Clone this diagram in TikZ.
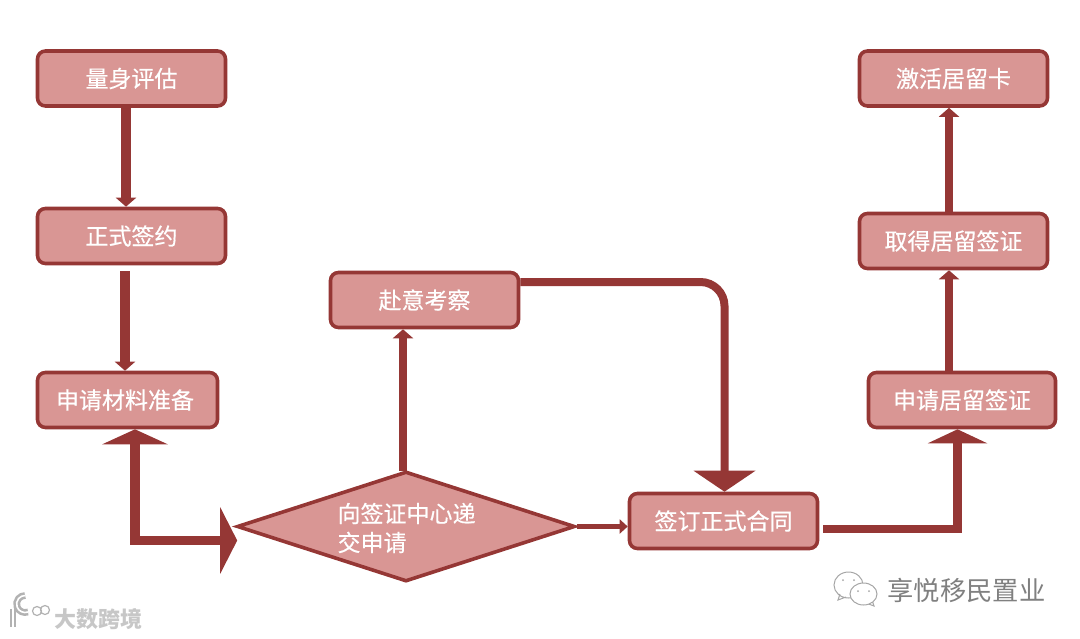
\documentclass[tikz,border=0pt]{standalone}
\usepackage{fontspec}
\setmainfont{Noto Sans CJK SC}
\newfontfamily\boxfont[FakeBold=0.5]{Noto Sans CJK SC}
\usetikzlibrary{arrows.meta,calc,shapes.geometric}
\definecolor{lineRed}{HTML}{953735}
\definecolor{fillRed}{HTML}{D99694}
\tikzset{
	stepbox/.style={draw=lineRed,fill=fillRed,line width=3.6pt,rounded corners=8pt,minimum width=188pt,minimum height=55pt,text=white,font=\boxfont\fontsize{23}{27}\selectfont,inner sep=0pt},
	flow/.style={draw=lineRed,line width=9.5pt},
	smallhead/.style={-{Triangle[width=20pt,length=9pt]}},
	logoline/.style={draw=black!30,line width=2.6pt,double=white,double distance=1.6pt}
}
\begin{document}
\begin{tikzpicture}[x=1pt,y=-1pt,line join=miter,>=stealth]
	\useasboundingbox (0,0) rectangle (1080,638);
	% boxes
	\node[stepbox] (assess) at (131.5,78.5) {量身评估};
	\node[stepbox] (sign) at (131.5,236) {正式签约};
	\node[stepbox,minimum width=180pt] (prepare) at (127.5,400) {\kern-5pt 申请材料准备};
	\node[stepbox] (visit) at (424.5,300) {赴意考察};
	\node[stepbox] (contract) at (723.5,521) {签订正式合同};
	\node[stepbox] (activate) at (953.5,78.5) {激活居留卡};
	\node[stepbox] (obtain) at (953.5,241) {取得居留签证};
	\node[stepbox,minimum width=187pt] (apply) at (962,400) {申请居留签证};
	\node[diamond,draw=lineRed,fill=fillRed,line width=3.6pt,minimum width=338pt,minimum height=110pt,aspect=3.07,inner sep=0pt] (submit) at (406,526.5) {};
	\node[text=white,font=\boxfont\fontsize{23}{29}\selectfont,align=left,anchor=west] (submittext) at (334,528) {向签证中心递\\交申请};
	% connectors
	\draw[flow,smallhead] ($(assess.south)+(-5.5,0)$) -- ($(sign.north)+(-5.5,0)$);
	\draw[flow,smallhead] ($(sign.south)+(-6.5,6)$) -- ($(prepare.north)+(-2.5,0)$);
	\draw[flow,{Triangle[width=65pt,length=15pt]}-{Triangle[width=66pt,length=17pt]}] ($(prepare.south)+(7.5,0)$) |- ($(submit.west)+(2,14)$);
	\draw[flow,line width=8.5pt,smallhead] ($(submit.north)+(-3,1)$) -- ($(visit.south)+(-21.5,0)$);
	\draw[flow,line width=8pt,-{Triangle[width=61pt,length=21pt]},rounded corners=24pt] ($(visit.east)+(0,-18)$) -| ($(contract.north)+(1,0)$);
	\draw[draw=lineRed,line width=5pt,-{Triangle[width=14pt,length=8pt]}] (submit.east) -- (submit.east -| contract.west);
	\draw[flow,line width=8.5pt,-{Triangle[width=59pt,length=14pt]}] ($(contract.east)+(4,8)$) -| ($(apply.south)+(-4.5,0)$);
	\draw[flow,line width=8.5pt,smallhead] ($(apply.north)+(-13,0)$) -- ($(obtain.south)+(-4.5,0)$);
	\draw[flow,line width=8.5pt,smallhead] ($(obtain.north)+(-4.5,0)$) -- ($(activate.south)+(-4.5,0)$);
	% watermarks
	\node[text=black!22,font=\fontsize{22}{24}\bfseries\selectfont,anchor=west] (brandleft) at (51,619) {大数跨境};
	\node[text=black!50,font=\fontsize{26.3}{28}\selectfont,anchor=west] (brandright) at (884,590) {享悦移民置业};
	\draw[logoline] (13,609) -- (13,627);
	\draw[logoline] (28,612) arc (70:270:8.5);
	\draw[draw=black!30,line width=1.2pt] (37,611) circle (4.5) (45,610) circle (4.5);
	\draw[draw=black!35,line width=1pt,fill=white] (840,594) -- (838,600) -- (846,597) (848.5,585) circle (14.5 and 13);
	\draw[draw=black!35,line width=1pt,fill=white] (872,600) -- (874,606) -- (866,603) -- cycle;
	\draw[draw=black!35,line width=1pt,fill=white] (863.5,594) circle (13.5 and 11);
	\fill[black!35] (843,580) circle (1) (854,580) circle (1) (858,591) circle (1) (869,591) circle (1);
\end{tikzpicture}
\end{document}
